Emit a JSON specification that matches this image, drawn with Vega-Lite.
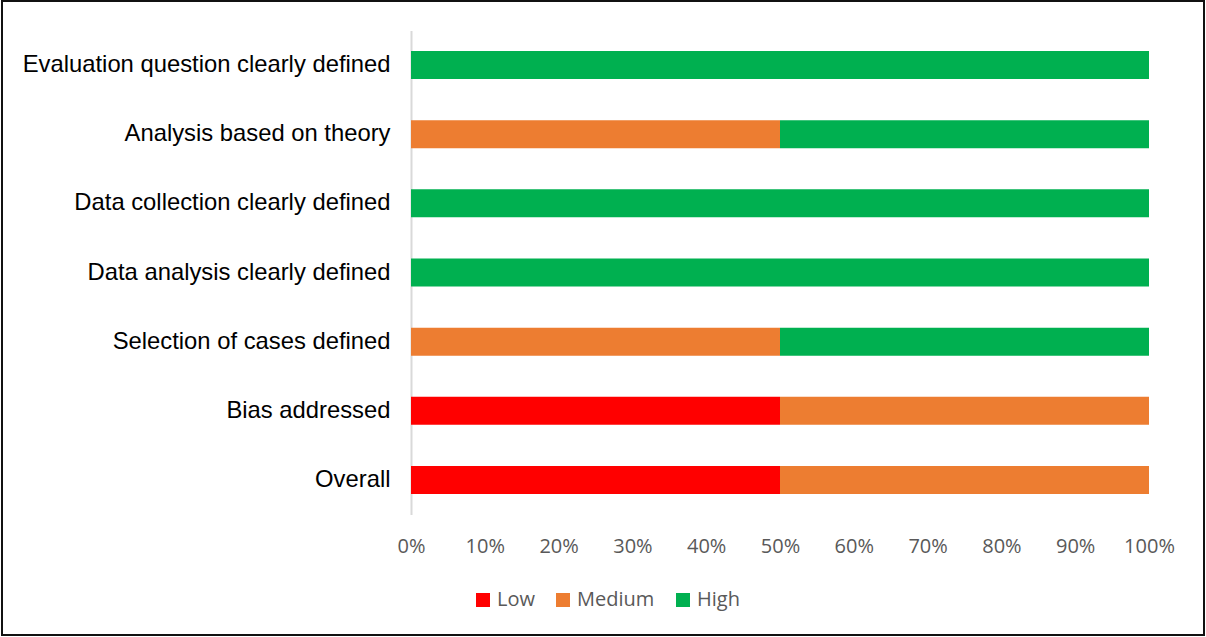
{
  "$schema": "https://vega.github.io/schema/vega-lite/v6.json",
  "width": 1202,
  "height": 634,
  "autosize": {"type": "none"},
  "padding": {"left": 2, "top": 1, "right": 2, "bottom": 2},
  "background": "white",
  "config": {
    "view": {"stroke": "#111111", "strokeWidth": 2},
    "axis": {"title": null}
  },
  "data": {
    "values": [
      {"criterion": "Evaluation question clearly defined", "rating": "High", "level": 3, "studies": 2},
      {"criterion": "Analysis based on theory", "rating": "Medium", "level": 2, "studies": 1},
      {"criterion": "Analysis based on theory", "rating": "High", "level": 3, "studies": 1},
      {"criterion": "Data collection clearly defined", "rating": "High", "level": 3, "studies": 2},
      {"criterion": "Data analysis clearly defined", "rating": "High", "level": 3, "studies": 2},
      {"criterion": "Selection of cases defined", "rating": "Medium", "level": 2, "studies": 1},
      {"criterion": "Selection of cases defined", "rating": "High", "level": 3, "studies": 1},
      {"criterion": "Bias addressed", "rating": "Low", "level": 1, "studies": 1},
      {"criterion": "Bias addressed", "rating": "Medium", "level": 2, "studies": 1},
      {"criterion": "Overall", "rating": "Low", "level": 1, "studies": 1},
      {"criterion": "Overall", "rating": "Medium", "level": 2, "studies": 1}
    ]
  },
  "mark": {"type": "bar"},
  "encoding": {
    "y": {
      "field": "criterion",
      "type": "nominal",
      "sort": [
        "Evaluation question clearly defined",
        "Analysis based on theory",
        "Data collection clearly defined",
        "Data analysis clearly defined",
        "Selection of cases defined",
        "Bias addressed",
        "Overall"
      ],
      "scale": {"range": [29.5, 513.5], "paddingInner": 0.595, "paddingOuter": 0.2975},
      "axis": {
        "offset": -409,
        "domainColor": "#d9d9d9",
        "domainWidth": 2,
        "ticks": false,
        "labelPadding": 21,
        "labelFont": "Liberation Sans",
        "labelFontSize": 23.8,
        "labelColor": "#000000",
        "labelLimit": 500
      }
    },
    "x": {
      "field": "studies",
      "type": "quantitative",
      "stack": "normalize",
      "scale": {"domain": [0, 1], "range": [409, 1147]},
      "axis": {
        "offset": -120.5,
        "values": [0, 0.1, 0.2, 0.3, 0.4, 0.5, 0.6, 0.7, 0.8, 0.9, 1],
        "format": ".0%",
        "grid": false,
        "domain": false,
        "ticks": false,
        "labelPadding": 22,
        "labelFont": "Open Sans",
        "labelFontSize": 20,
        "labelColor": "#595959",
        "labelFlush": false
      }
    },
    "color": {
      "field": "rating",
      "type": "nominal",
      "scale": {"domain": ["Low", "Medium", "High"], "range": ["#ff0000", "#ed7d31", "#00b050"]},
      "legend": {
        "title": null,
        "orient": "none",
        "direction": "horizontal",
        "legendX": 471,
        "legendY": 589,
        "padding": 0,
        "symbolType": "square",
        "symbolSize": 196,
        "symbolStrokeWidth": 0,
        "symbolOpacity": 1,
        "labelFont": "Open Sans",
        "labelFontSize": 20,
        "labelColor": "#595959",
        "labelOffset": 4,
        "columnPadding": 18
      }
    },
    "order": {"field": "level", "type": "quantitative"}
  }
}
